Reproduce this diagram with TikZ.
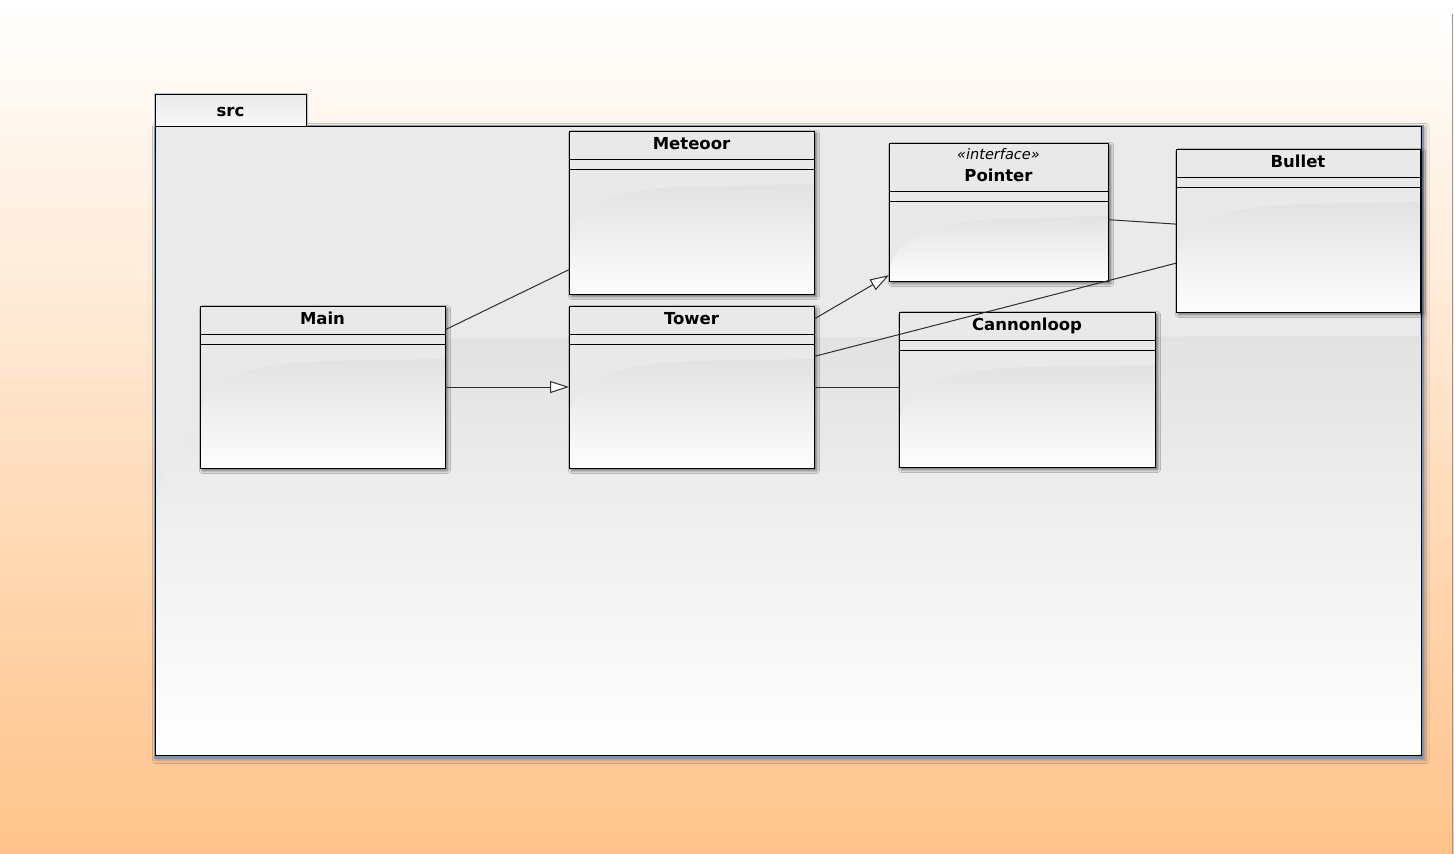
\documentclass[tikz,border=0pt]{standalone}
\usepackage{fontspec}
\setmainfont{DejaVu Sans}
\usetikzlibrary{arrows.meta,shadows.blur}

\definecolor{bgbot}{RGB}{255,195,138}
\definecolor{pkgfill}{RGB}{234,234,234}
\definecolor{boxfill}{RGB}{233,233,233}
\definecolor{glosstop}{RGB}{226,226,226}
\definecolor{glossbot}{RGB}{253,253,253}
\definecolor{pkgedge}{RGB}{125,148,178}
\definecolor{connline}{RGB}{45,45,45}
\definecolor{scrollgray}{RGB}{150,150,150}

\tikzset{
  classbox/.style={draw=black, line width=1pt, fill=boxfill, inner sep=0pt, outer sep=0pt,
    blur shadow={shadow xshift=2.5pt, shadow yshift=-2.5pt, shadow blur radius=3pt,
      shadow blur steps=6, shadow opacity=60}},
  boxline/.style={draw=black, line width=1pt},
  compline/.style={draw=black, line width=1pt},
  gloss/.style={top color=glosstop, bottom color=glossbot},
  classname/.style={font=\bfseries\fontsize{16.5}{19}\selectfont, anchor=base, inner sep=0pt},
  stereo/.style={font=\itshape\fontsize{14.5}{17}\selectfont, anchor=base, inner sep=0pt},
  conn/.style={draw=connline, line width=1pt},
  gen/.style={conn, -{Triangle[open, length=19pt, width=12pt, fill=white]}},
}

% UML class box: name, left x, top y, width, height, header height
\newcommand\umlclass[6]{%
  \node[classbox, minimum width=#4pt, minimum height=#5pt] (#1) at (#2+#4/2, #3+#5/2) {};
  % lower glossy part, then the flat upper part with its curved lower edge
  \shade[gloss] (#2+0.5,#3+#6+24) rectangle (#2+#4-0.5,#3+#5-0.5);
  \fill[boxfill] (#2+0.5,#3+#6+10) -- (#2+#4-0.5,#3+#6+10) -- (#2+#4-0.5,#3+#6+25)
    -- (#2+130,#3+#6+27) .. controls (#2+45,#3+#6+29) and (#2+8,#3+#6+45)
    .. (#2+0.5,#3+#6+78) -- cycle;
  \draw[compline] (#2,#3+#6) -- (#2+#4,#3+#6);
  \draw[compline] (#2,#3+#6+10) -- (#2+#4,#3+#6+10);
  \draw[boxline] (#1.north west) rectangle (#1.south east);
}

\begin{document}
\begin{tikzpicture}[x=1pt, y=-1pt]
  % canvas
  \useasboundingbox (0,0) rectangle (1454,854);
  \shade[top color=white, bottom color=bgbot] (0,0) rectangle (1454,854);
  \draw[scrollgray, line width=1pt] (1452.5,14) -- (1452.5,854);

  % package "src": tab and body
  \fill[pkgedge, blur shadow={shadow xshift=2pt, shadow yshift=-2pt, shadow blur radius=3pt,
      shadow blur steps=6, shadow opacity=30}] (153.5,124.5) rectangle (1424,758.5);
  \fill[pkgedge!55] (153.5,92.5) rectangle (307.5,126);
  \shade[top color=glosstop, bottom color=white] (155.5,335) rectangle (1420.5,754.5);
  \fill[pkgfill] (155.5,126.5) -- (1420.5,126.5) -- (1420.5,336) -- (460,338)
    .. controls (250,345) and (172,430) .. (155.5,505) -- cycle;
  \draw[black, line width=1pt] (155,126) rectangle (1421,755);
  \shade[top color=boxfill, bottom color={rgb,255:red,248;green,248;blue,248}, draw=black, line width=1pt]
    (155,94) rectangle (306,126);
  \node[classname] (pkgname) at (230.5,116) {src};

  % classes
  \umlclass{meteoor}{569}{131}{245}{163}{28}
  \node[classname] (meteoorname) at (691.5,149.5) {Meteoor};

  \umlclass{main}{200}{306}{245}{162}{28}
  \node[classname] (mainname) at (322.5,324.5) {Main};

  \umlclass{tower}{569}{306}{245}{162}{28}
  \node[classname] (towername) at (691.5,324.5) {Tower};

  \umlclass{pointer}{889}{143}{219}{138}{48}
  \node[stereo] (pointerstereo) at (998.5,159) {«interface»};
  \node[classname] (pointername) at (998.5,181) {Pointer};

  \umlclass{bullet}{1176}{149}{244}{163}{28}
  \node[classname] (bulletname) at (1298,167.5) {Bullet};

  \umlclass{cannon}{899}{312}{256}{155}{28}
  \node[classname] (cannonname) at (1027,330) {Cannonloop};

  % relations
  \draw[conn] (main.25) -- (meteoor.205);
  \draw[gen] (main.east) -- (tower.west);
  \draw[gen] (tower.29) -- (pointer.210);
  \draw[conn] (tower.14) -- (bullet.195);
  \draw[conn] (pointer.356) -- (bullet.177);
  \draw[conn] (tower.east) -- (tower.east -| cannon.west);
\end{tikzpicture}
\end{document}
